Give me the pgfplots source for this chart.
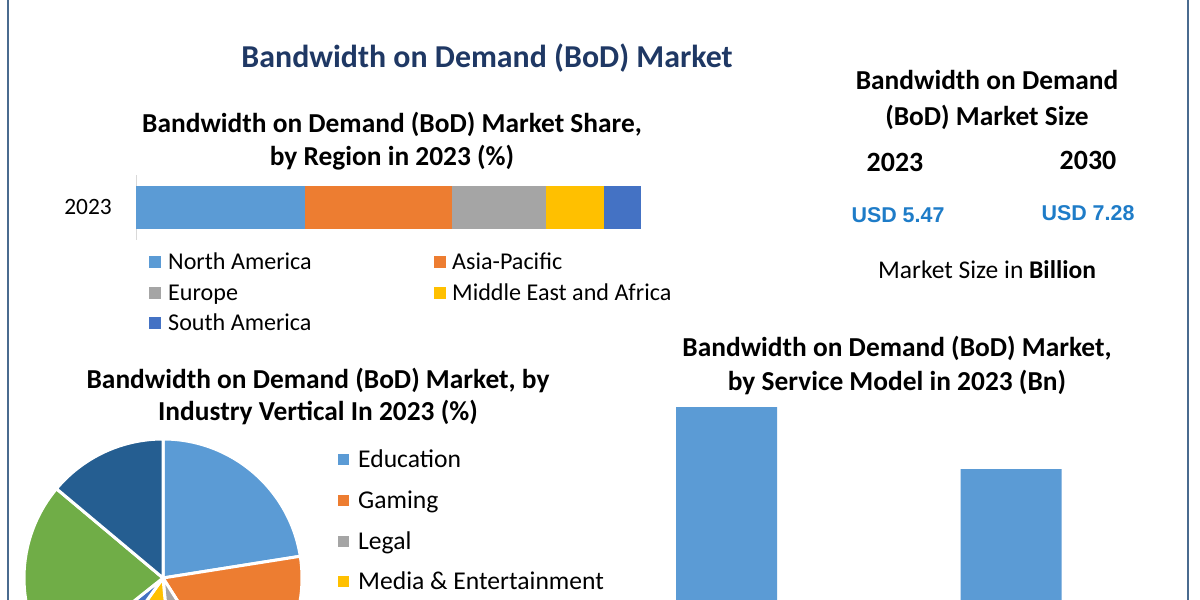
\documentclass[border=0pt]{standalone}
\usepackage{pgfplots}
\pgfplotsset{compat=1.18}
\usepackage{fontspec}
\setmainfont{Carlito}
\newfontfamily\usdfont{Liberation Sans}

\definecolor{cBlue}{HTML}{5B9BD5}
\definecolor{cOrange}{HTML}{ED7D31}
\definecolor{cGray}{HTML}{A5A5A5}
\definecolor{cYellow}{HTML}{FFC000}
\definecolor{cDBlue}{HTML}{4472C4}
\definecolor{cGreen}{HTML}{70AD47}
\definecolor{cNavy}{HTML}{255E91}
\definecolor{titleNavy}{HTML}{1F3864}
\definecolor{usdBlue}{HTML}{1E7CC8}
\definecolor{frameBlue}{HTML}{4A6B8F}

\begin{document}
\begin{tikzpicture}[x=1bp,y=1bp]
\useasboundingbox (0,0) rectangle (1200,600);
\clip (0,0) rectangle (1200,600);
\fill[white] (0,0) rectangle (1200,600);

% frame
\draw[frameBlue, line width=1.5bp] (8,0) -- (8,600);
\draw[frameBlue, line width=1.5bp] (1188,0) -- (1188,600);

% main title
\node[font=\fontsize{32}{38}\selectfont\bfseries, text=titleNavy] at (487,542) {Bandwidth on Demand (BoD) Market};

% ---- share by region (stacked bar)
\node[font=\fontsize{27.5}{33}\selectfont\bfseries, align=center] at (392,458.5)
  {Bandwidth on Demand (BoD) Market Share,\\by Region in 2023 (\%)};
\node[font=\fontsize{23.5}{28}\selectfont] at (88,393) {2023};

\begin{axis}[at={(136bp,360bp)}, anchor=south west,
  width=505bp, height=65bp, scale only axis,
  xmin=0, xmax=100, ymin=-0.5, ymax=0.5,
  xbar stacked, bar width=43bp,
  axis x line=none, axis y line=left,
  y axis line style={-, draw=black!15, line width=1bp},
  xtick=\empty, ytick=\empty]
\addplot[fill=cBlue, draw=none] coordinates {(33.5,0)};
\addplot[fill=cOrange, draw=none] coordinates {(29.1,0)};
\addplot[fill=cGray, draw=none] coordinates {(18.6,0)};
\addplot[fill=cYellow, draw=none] coordinates {(11.5,0)};
\addplot[fill=cDBlue, draw=none] coordinates {(7.3,0)};
\end{axis}

\begin{scope}[every node/.style={font=\fontsize{24.2}{28}\selectfont, anchor=base west, inner sep=0pt}]
\fill[cBlue]   (149,332) rectangle (161,344); \node at (168,330) {North America};
\fill[cOrange] (434,332) rectangle (446,344); \node at (452,330) {Asia-Pacific};
\fill[cGray]   (149,301) rectangle (161,313); \node at (168,299) {Europe};
\fill[cYellow] (434,301) rectangle (446,313); \node at (452,299) {Middle East and Africa};
\fill[cDBlue]  (149,271) rectangle (161,283); \node at (168,269) {South America};
\end{scope}

% ---- market size block
\node[font=\fontsize{27.5}{36}\selectfont\bfseries, align=center] at (987,500)
  {Bandwidth on Demand\\(BoD) Market Size};
\node[font=\fontsize{28}{32}\selectfont\bfseries] at (895,438) {2023};
\node[font=\fontsize{28}{32}\selectfont\bfseries] at (1088,440) {2030};
\node[font=\usdfont\fontsize{21.5}{25}\selectfont\bfseries, text=usdBlue] at (898,385) {USD 5.47};
\node[font=\usdfont\fontsize{21.5}{25}\selectfont\bfseries, text=usdBlue] at (1088,387) {USD 7.28};
\node[font=\fontsize{25.6}{30}\selectfont] at (987,330) {Market Size in \textbf{Billion}};

% ---- service model (bars)
\node[font=\fontsize{27.5}{35}\selectfont\bfseries, align=center] at (897,234.5)
  {Bandwidth on Demand (BoD) Market,\\by Service Model in 2023 (Bn)};
\begin{axis}[at={(641.15bp,-99bp)}, anchor=south west,
  width=512.1bp, height=324.36bp, scale only axis,
  xmin=-0.3, xmax=1.5, ymin=0, ymax=3.4,
  ybar, bar width=101bp, hide axis]
\addplot[fill=cBlue, draw=none] coordinates {(0,3.06) (1,2.41)};
\end{axis}

% ---- industry vertical (pie)
\node[font=\fontsize{27.5}{33}\selectfont\bfseries, align=center] at (318,203.5)
  {Bandwidth on Demand (BoD) Market, by\\Industry Vertical In 2023 (\%)};
\begin{axis}[at={(23bp,-118bp)}, anchor=south west,
  width=280bp, height=280bp, scale only axis,
  xmin=-140, xmax=140, ymin=-140, ymax=140,
  hide axis, clip=false]
\xdef\startang{90}
\foreach \v/\c in {22.5/cBlue, 18.5/cOrange, 7.5/cGray, 11.4/cYellow, 4.4/cDBlue, 21.8/cGreen, 13.9/cNavy} {
  \pgfmathsetmacro\endang{\startang-3.6*\v}
  \edef\temp{\noexpand\fill[\c, draw=white, line width=3bp, line join=round]
    (axis cs:0,0) -- ++(\startang:139bp) arc[start angle=\startang, end angle=\endang, radius=139bp] -- cycle;}
  \temp
  \xdef\startang{\endang}
}
\end{axis}

\begin{scope}[every node/.style={font=\fontsize{25.7}{30}\selectfont, anchor=base west, inner sep=0pt}]
\fill[cBlue]   (338,134.5) rectangle (349,145.5); \node at (358,132) {Education};
\fill[cOrange] (338,93.5) rectangle (349,104.5);  \node at (358,91) {Gaming};
\fill[cGray]   (338,52.5) rectangle (349,63.5);   \node at (358,50) {Legal};
\fill[cYellow] (338,12.5) rectangle (349,23.5);   \node at (358,10) {Media \& Entertainment};
\end{scope}
\end{tikzpicture}
\end{document}
